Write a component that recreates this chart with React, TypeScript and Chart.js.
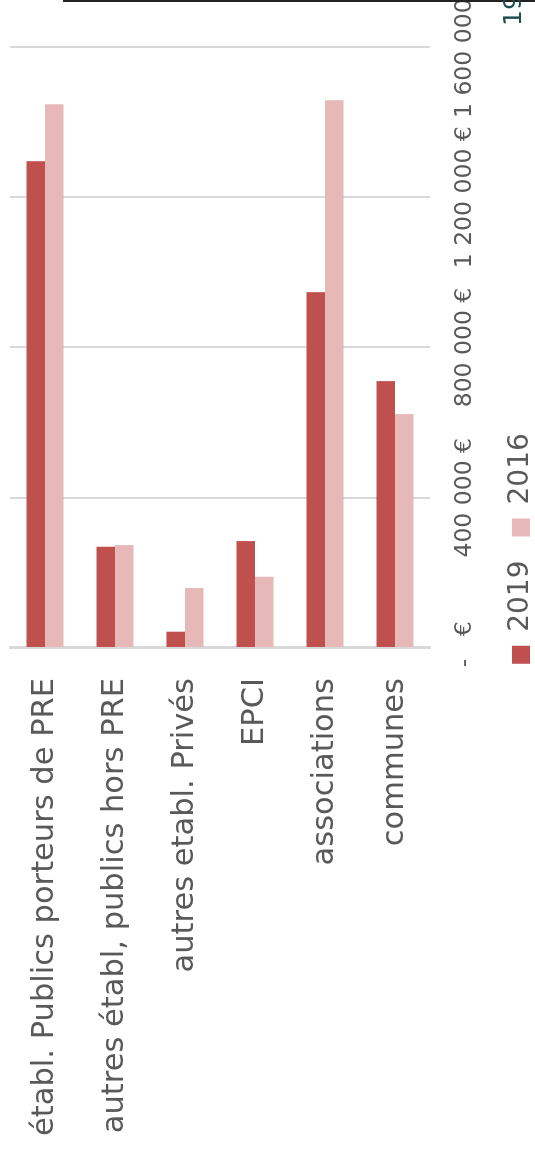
import React, { useEffect, useRef } from "react";
import Chart from "chart.js/auto";

// Data (values in euros)
const categories = [
  "établ. Publics porteurs de PRE",
  "autres établ, publics hors PRE",
  "autres etabl. Privés",
  "EPCI",
  "associations",
  "communes",
];
const series2019 = [1296000, 269600, 43400, 284700, 947300, 710500];
const series2016 = [1447600, 274100, 159700, 189700, 1458200, 622700];
const seriesLabels = ["2019", "2016"];
const valueTicks = [0, 400000, 800000, 1200000, 1600000];
const valueTickLabels = [" -   €", "400 000 €", "800 000 €", "1 200 000 €", "1 600 000 €"];

const FONT = "'DejaVu Sans', Verdana, sans-serif";
const TEXT = "#595959";
const GRID = "#D9D9D9";

// Landscape size of the chart before it is turned a quarter turn
const W = 1219;
const H = 545;

export default function App() {
  const ref = useRef<HTMLCanvasElement>(null);

  useEffect(() => {
    if (!ref.current) return;
    const chart = new Chart(ref.current, {
      type: "bar",
      data: {
        labels: categories,
        datasets: [
          {
            label: seriesLabels[0],
            data: series2019,
            backgroundColor: "#C0504D",
            borderWidth: 0,
            categoryPercentage: 0.53,
            barPercentage: 1,
            yAxisID: "y",
          },
          {
            label: seriesLabels[1],
            data: series2016,
            backgroundColor: "#E6B9B8",
            borderWidth: 0,
            categoryPercentage: 0.53,
            barPercentage: 1,
            yAxisID: "y",
          },
        ],
      },
      options: {
        indexAxis: "y",
        responsive: false,
        animation: false,
        devicePixelRatio: 1,
        layout: { padding: { left: 0, right: 0, top: 10, bottom: 0 } },
        plugins: {
          tooltip: { enabled: false },
          title: { display: false },
          legend: {
            display: true,
            position: "bottom",
            align: "center",
            labels: {
              boxWidth: 18,
              boxHeight: 18,
              padding: 24,
              color: TEXT,
              font: { family: FONT, size: 28 },
            },
          },
        },
        scales: {
          x: {
            type: "linear",
            min: 0,
            max: 1600000,
            afterBuildTicks: (scale: any) => {
              scale.ticks = valueTicks.map((v) => ({ value: v }));
            },
            afterFit: (scale: any) => {
              scale.height = 53;
            },
            ticks: {
              autoSkip: false,
              maxRotation: 0,
              minRotation: 0,
              padding: 21,
              color: TEXT,
              font: { family: FONT, size: 23.5 },
              callback: (v: any) => {
                const i = valueTicks.indexOf(Number(v));
                return i >= 0 ? valueTickLabels[i] : "";
              },
            },
            grid: { color: GRID, lineWidth: 2, drawTicks: false },
            border: { display: false },
          },
          y: {
            type: "category",
            position: "left",
            afterFit: (scale: any) => {
              scale.width = 510;
            },
            ticks: {
              autoSkip: false,
              padding: 0,
              color: TEXT,
              font: { family: FONT, size: 30.5, lineHeight: 0.6 },
            },
            grid: { display: false, drawTicks: true, tickLength: 30 },
            border: { display: true, color: GRID, width: 3 },
          },
          yRight: {
            type: "category",
            position: "right",
            display: true,
            afterFit: (scale: any) => {
              scale.width = 108;
            },
            ticks: { display: false },
            grid: { display: false, drawTicks: false },
            border: { display: false },
          },
        },
      },
    });
    return () => chart.destroy();
  }, []);

  return (
    <div
      style={{
        position: "absolute",
        left: 0,
        top: 0,
        width: 535,
        height: 1158,
        overflow: "hidden",
        background: "#fff",
      }}
    >
      <div
        style={{
          position: "absolute",
          left: 0,
          top: 0,
          width: W,
          height: H,
          transformOrigin: "0 0",
          transform: "translateY(1158px) rotate(-90deg)",
        }}
      >
        <canvas
          ref={ref}
          width={W}
          height={H}
          style={{ display: "block", width: W, height: H }}
        />
        <div
          style={{
            position: "absolute",
            left: 1156,
            top: 63,
            width: 2,
            height: H - 63,
            background: "#222",
          }}
        />
        <div
          style={{
            position: "absolute",
            left: 1132,
            top: 500,
            fontFamily: FONT,
            fontSize: 25,
            lineHeight: 1,
            color: "#1E4D4F",
            whiteSpace: "nowrap",
          }}
        >
          19
        </div>
      </div>
    </div>
  );
}
